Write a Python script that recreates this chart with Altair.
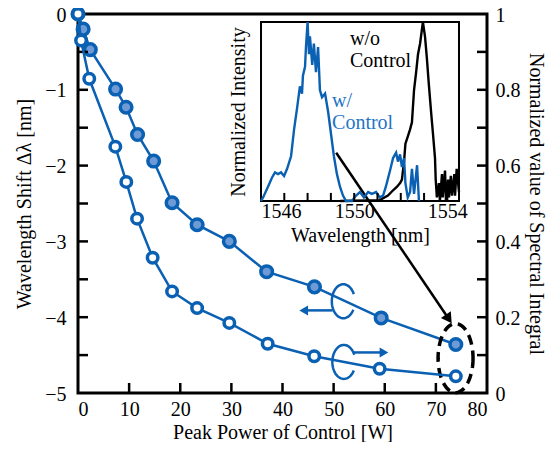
import altair as alt
import pandas as pd

# ---------------- data ----------------
power_shift = [0, 1.0, 2.4, 7.35, 9.4, 11.65, 14.8, 18.4, 23.3, 29.6, 36.9, 46.25, 59.3, 73.9]
shift_nm = [0, -0.2, -0.47, -0.99, -1.23, -1.59, -1.94, -2.49, -2.78, -3.0, -3.4, -3.6, -4.01, -4.36]

power_int = [0, 0.6, 2.2, 7.3, 9.45, 11.55, 14.6, 18.4, 23.3, 29.6, 37.1, 46.2, 59.0, 73.9]
integral = [1.0, 0.93, 0.829, 0.65, 0.557, 0.46, 0.357, 0.268, 0.224, 0.185, 0.13, 0.097, 0.064, 0.044]

# inset spectra
wl_with = [1546.0, 1546.09, 1546.3, 1546.47, 1546.6, 1546.73, 1546.86, 1546.99, 1547.12, 1547.29,
           1547.42, 1547.55, 1547.67, 1547.76, 1547.8, 1547.89, 1547.93, 1548.0, 1548.06, 1548.1,
           1548.2, 1548.27, 1548.36, 1548.45, 1548.53, 1548.62, 1548.75, 1548.88, 1549.0, 1549.13,
           1549.26, 1549.39, 1549.52, 1549.65, 1549.9, 1550.08, 1550.25, 1550.42, 1550.6, 1550.76,
           1550.94, 1551.1, 1551.24, 1551.36, 1551.54, 1551.67, 1551.8, 1551.88, 1551.97, 1552.05,
           1552.14, 1552.2, 1552.3, 1552.4, 1552.48, 1552.57, 1552.7, 1552.78]
int_with = [0.0, 0.02, 0.08, 0.13, 0.16, 0.15, 0.16, 0.14, 0.18, 0.25,
            0.40, 0.52, 0.64, 0.60, 0.70, 0.75, 0.86, 1.0, 0.82, 0.92,
            0.76, 0.88, 0.72, 0.86, 0.62, 0.58, 0.60, 0.50, 0.38, 0.25,
            0.15, 0.08, 0.03, 0.0, 0.0, 0.03, 0.05, 0.02, 0.05, 0.04,
            0.05, 0.02, 0.03, 0.08, 0.17, 0.24, 0.27, 0.22, 0.26, 0.19,
            0.24, 0.10, 0.02, 0.05, 0.18, 0.04, 0.20, 0.0]

wl_without = [1549.4, 1551.1, 1551.45, 1551.67, 1551.84, 1551.97, 1552.05, 1552.14, 1552.2, 1552.3,
              1552.4, 1552.48, 1552.57, 1552.66, 1552.74, 1552.83, 1552.9, 1552.95, 1553.04, 1553.12,
              1553.2, 1553.3, 1553.38, 1553.47, 1553.5, 1553.55, 1553.64, 1553.68, 1553.77, 1553.8,
              1553.9, 1553.94, 1554.03, 1554.07, 1554.15, 1554.2, 1554.3, 1554.33, 1554.4, 1554.5]
int_without = [0.0, 0.005, 0.03, 0.06, 0.08, 0.10, 0.12, 0.22, 0.32, 0.36,
               0.40, 0.44, 0.62, 0.72, 0.82, 0.88, 0.95, 1.0, 0.92, 0.80,
               0.66, 0.50, 0.38, 0.24, 0.12, 0.02, 0.10, 0.0, 0.15, 0.02,
               0.17, 0.0, 0.12, 0.02, 0.14, 0.03, 0.15, 0.03, 0.18, 0.05]

# axis tick values
x_labels = [0, 10, 20, 30, 40, 50, 60, 70, 80]
x_ticks = [10, 20, 30, 40, 50, 60, 70]
left_labels = [-5, -4, -3, -2, -1, 0]
left_ticks = [-4.5, -4, -3.5, -3, -2.5, -2, -1.5, -1, -0.5]
right_labels = [0, 0.2, 0.4, 0.6, 0.8, 1]
right_ticks = [0.1, 0.2, 0.3, 0.4, 0.5, 0.6, 0.7, 0.8, 0.9]
inset_labels = [1546, 1550, 1554]
inset_ticks = [1547, 1548, 1549, 1550, 1551, 1552, 1553, 1554]

# annotation anchors (data units of the main chart)
arrow_black = {"p": [50.5], "s": [-1.83], "p2": [72.33], "s2": [-4.003]}
rot_centers = [(51.9, -3.79), (52.0, -4.59)]
rot_radii = (2.25, 0.224)
arrow_left = {"p": [49.8], "s": [-3.91], "p2": [44.15]}
arrow_right = {"p": [53.9], "s": [-4.465], "p2": [59.85]}
dash_center = (73.85, -4.54)
dash_radii = (3.42, 0.455)

inset_text = {"w": [1549.82, 1549.82, 1549.05, 1549.05],
              "i": [0.905, 0.782, 0.561, 0.433],
              "t": ["w/o", "Control", "w/", "Control"],
              "c": ["k", "k", "b", "b"]}

# ---------------- style ----------------
W, H = 409, 379
BLUE = "#0a60b2"
FILL = "#6e9bd6"
TXTBLUE = "#1f74c6"
FONT = "Liberation Serif"
FS = 20
AX = dict(labelFont=FONT, titleFont=FONT, labelFontSize=FS, titleFontSize=FS,
          labelColor="black", titleColor="black", titleFontWeight="normal",
          ticks=False, domain=False, grid=False)

# ---------------- main (left axis) ----------------
df_s = pd.DataFrame({"p": power_shift, "s": shift_nm})
x_main = alt.X("p:Q", scale=alt.Scale(domain=[0, 80], range=[0, W], padding=0, nice=False, zero=False),
               axis=alt.Axis(orient="bottom", values=x_labels, format="d", labelPadding=6,
                             title="Peak Power of Control [W]", titlePadding=3, **AX))
y_left = alt.Y("s:Q", scale=alt.Scale(domain=[-5, 0], padding=0, nice=False, zero=False),
               axis=alt.Axis(orient="left", values=left_labels, format="d", labelPadding=12, labelOffset=1,
                             title="Wavelength Shift Δλ [nm]", titlePadding=10, **AX))

line_s = alt.Chart(df_s).mark_line(color=BLUE, strokeWidth=2.5).encode(x=x_main, y=y_left)
pts_s = alt.Chart(df_s).mark_point(shape="circle", filled=True, fill=FILL, stroke=BLUE, strokeWidth=3.5,
                                   size=135, opacity=1).encode(x="p:Q", y="s:Q")

ticks_left = alt.Chart(pd.DataFrame({"s": left_ticks})).mark_rule(color="black", strokeWidth=2.5).encode(
    y="s:Q", x=alt.value(0), x2=alt.value(10))
ticks_bottom = alt.Chart(pd.DataFrame({"p": x_ticks})).mark_rule(color="black", strokeWidth=2.5).encode(
    x="p:Q", y=alt.value(H), y2=alt.value(H - 10))

df_ab = pd.DataFrame(arrow_black)
arrow_b_line = alt.Chart(df_ab).mark_rule(color="black", strokeWidth=2.5).encode(
    x="p:Q", y="s:Q", x2="p2:Q", y2="s2:Q")
arrow_b_head = alt.Chart(df_ab).mark_point(shape="triangle", filled=True, fill="black", strokeWidth=0,
                                           size=144, angle=146, opacity=1).encode(x="p2:Q", y="s2:Q")


def ellipse(cx, cy, rx, ry, t0, t1, color, width, dash=None):
    mk = dict(color=color, strokeWidth=width)
    if dash:
        mk["strokeDash"] = dash
    return alt.Chart(alt.sequence(t0, t1, 5, as_="t")).transform_calculate(
        p=f"{cx} + {rx} * cos(datum.t * PI / 180)",
        s=f"{cy} - {ry} * sin(datum.t * PI / 180)",
    ).mark_line(**mk).encode(x="p:Q", y="s:Q", order="t:Q")


rot1 = ellipse(rot_centers[0][0], rot_centers[0][1], rot_radii[0], rot_radii[1], 30, 336, BLUE, 2.5)
rot2 = ellipse(rot_centers[1][0], rot_centers[1][1], rot_radii[0], rot_radii[1], 30, 336, BLUE, 2.5)
dash = ellipse(dash_center[0], dash_center[1], dash_radii[0], dash_radii[1], 0, 366, "black", 3.5, [10, 6])

df_al = pd.DataFrame(arrow_left)
al_line = alt.Chart(df_al).mark_rule(color=BLUE, strokeWidth=2.5).encode(x="p:Q", x2="p2:Q", y="s:Q")
al_head = alt.Chart(df_al).mark_point(shape="triangle-left", filled=True, fill=BLUE, strokeWidth=0,
                                      size=100, opacity=1).encode(x="p2:Q", y="s:Q")
df_ar = pd.DataFrame(arrow_right)
ar_line = alt.Chart(df_ar).mark_rule(color=BLUE, strokeWidth=2.5).encode(x="p:Q", x2="p2:Q", y="s:Q")
ar_head = alt.Chart(df_ar).mark_point(shape="triangle-right", filled=True, fill=BLUE, strokeWidth=0,
                                      size=100, opacity=1).encode(x="p2:Q", y="s:Q")

left_group = alt.layer(arrow_b_line, arrow_b_head, line_s, pts_s, ticks_left, ticks_bottom,
                       rot1, rot2, al_line, al_head, ar_line, ar_head, dash)

# ---------------- main (right axis) ----------------
df_v = pd.DataFrame({"p": power_int, "v": integral})
y_right = alt.Y("v:Q", scale=alt.Scale(domain=[0, 1], padding=0, nice=False, zero=False),
                axis=alt.Axis(orient="right", values=right_labels, format=".1~f", labelPadding=8, labelOffset=1,
                              title="Normalized value of Spectral Integral", titlePadding=5, **AX))
line_v = alt.Chart(df_v).mark_line(color=BLUE, strokeWidth=2.5).encode(x="p:Q", y=y_right)
pts_v = alt.Chart(df_v).mark_point(shape="circle", filled=True, fill="white", stroke=BLUE, strokeWidth=3.5,
                                   size=110, opacity=1).encode(x="p:Q", y="v:Q")
ticks_right = alt.Chart(pd.DataFrame({"v": right_ticks})).mark_rule(color="black", strokeWidth=2.5).encode(
    y="v:Q", x=alt.value(W - 10), x2=alt.value(W))

right_group = alt.layer(line_v, pts_v, ticks_right)

main_group = alt.layer(left_group, right_group).resolve_scale(y="independent")

# ---------------- inset ----------------
x_in = alt.X("w:Q", scale=alt.Scale(domain=[1546, 1554.5], range=[183, 381], padding=0, nice=False, zero=False),
             axis=alt.Axis(orient="bottom", offset=-(H - 187), values=inset_labels, format="d",
                           labelPadding=0, title="Wavelength [nm]", titlePadding=4, **AX))
y_in = alt.Y("i:Q", scale=alt.Scale(domain=[0, 1], range=[187, 8], padding=0, nice=False, zero=False),
             axis=alt.Axis(orient="left", offset=-183, labels=False,
                           title="Normalized Intensity", titlePadding=13, **AX))

frame = alt.Chart(pd.DataFrame({"w": [1546], "w2": [1554.5], "i": [0], "i2": [1]})).mark_rect(
    fillOpacity=0, stroke="black", strokeWidth=2).encode(x=x_in, x2="w2:Q", y=y_in, y2="i2:Q")
spec_w = alt.Chart(pd.DataFrame({"w": wl_with, "i": int_with})).mark_line(
    color=BLUE, strokeWidth=2.4).encode(x="w:Q", y="i:Q")
spec_wo = alt.Chart(pd.DataFrame({"w": wl_without, "i": int_without})).mark_line(
    color="black", strokeWidth=2.4).encode(x="w:Q", y="i:Q")
in_ticks = alt.Chart(pd.DataFrame({"w": inset_ticks, "i": [0] * len(inset_ticks),
                                   "i2": [0.045] * len(inset_ticks)})).mark_rule(
    color="black", strokeWidth=2).encode(x="w:Q", y="i:Q", y2="i2:Q")
texts = alt.Chart(pd.DataFrame(inset_text)).mark_text(
    align="left", baseline="middle", fontSize=FS, font=FONT).encode(
    x="w:Q", y="i:Q", text="t:N",
    color=alt.Color("c:N", scale=alt.Scale(domain=["k", "b"], range=["black", TXTBLUE]), legend=None))

inset_group = alt.layer(frame, spec_wo, spec_w, in_ticks, texts)

chart = alt.layer(main_group, inset_group).resolve_scale(x="independent", y="independent").properties(
    width=W, height=H,
    autosize=alt.AutoSizeParams(type="none"),
    padding={"left": 70, "top": 6, "right": 60, "bottom": 49},
).configure(font=FONT).configure_view(stroke="black", strokeWidth=3)

chart.save("out.html", embed_options={"renderer": "svg", "actions": False})
